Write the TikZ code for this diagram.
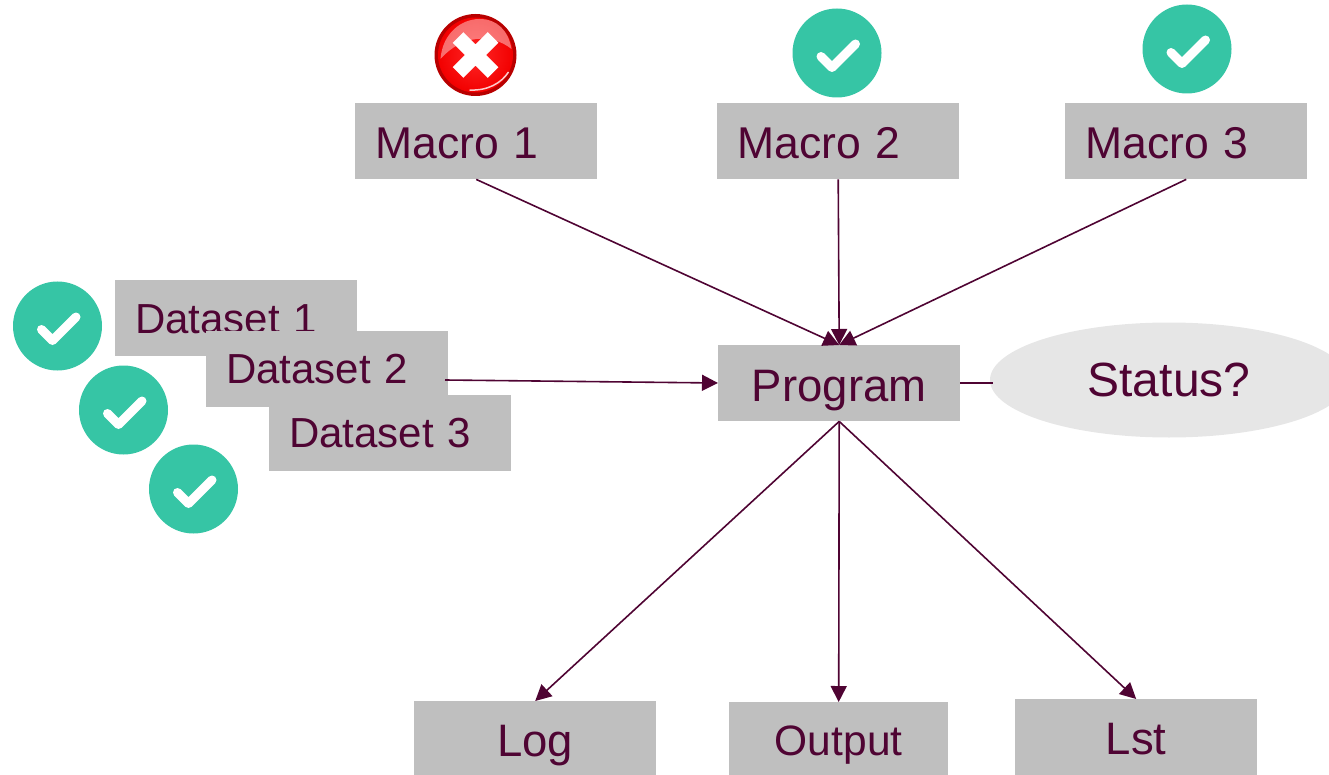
\documentclass[tikz,border=0pt]{standalone}
\usepackage{fontspec}
\setmainfont{Liberation Sans}
\newfontfamily\tightsans[WordSpace=0.6]{Liberation Sans}
\usetikzlibrary{arrows.meta,shapes.geometric}
\definecolor{wine}{HTML}{4F0433}
\definecolor{boxgrey}{HTML}{BFBFBF}
\definecolor{ovalgrey}{HTML}{E6E6E6}
\definecolor{okgreen}{HTML}{36C5A5}
\tikzset{
  x=1pt,y=-1pt,
  boxbase/.style={fill=boxgrey,text=wine,inner ysep=0pt,anchor=north west,font=\fontsize{45.5}{50}\selectfont},
  leftbox/.style={boxbase,inner xsep=20pt,text width=202pt,align=left,text height=#1pt,text depth=(76-#1)*1pt},
  macrobox/.style={leftbox=55,font=\tightsans\fontsize{44.5}{49}\selectfont},
  dsbox/.style={leftbox=53,font=\fontsize{42}{46}\selectfont},
  midbox/.style={boxbase,inner xsep=0pt,minimum width=242pt,align=center},
  link/.style={draw=wine,line width=1.6pt},
  arrowlink/.style={link,-{Triangle[length=16pt,width=16pt]}},
  okbadge/.pic={
    \fill[okgreen] (0,0) circle[radius=44.5];
    \draw[white,line width=9pt,line cap=round,line join=round] (-16,3.5) -- (-5,14.5) -- (18.5,-9);
  },
  failbadge/.pic={
    \fill[red!72!black] (0,0) circle[radius=41];
    \shade[inner color=red!85!white,outer color=red!95!black] (0,0) circle[radius=37.5];
    \fill[white,opacity=.42] (-35,4) .. controls (-33,-22) and (-14,-36) .. (4,-36) .. controls (22,-36) and (33,-24) .. (36,-6) .. controls (16,-22) and (-14,-20) .. (-35,4) -- cycle;
    \draw[white,line width=1.5pt,opacity=.8] (-6,35) .. controls (12,36) and (26,28) .. (33,17);
    \draw[white,line width=15pt] (-17.5,-17.5) -- (17.5,17.5) (-17.5,17.5) -- (17.5,-17.5);
  }
}
\begin{document}
\begin{tikzpicture}
\path[use as bounding box] (0,0) rectangle (1329,775);
\clip (0,0) rectangle (1329,775);

\pic at (475.5,55) {failbadge};
\pic at (837,53) {okbadge};
\pic at (1187,49) {okbadge};
\pic at (57.5,326) {okbadge};
\pic at (123.5,410) {okbadge};
\pic at (193.5,489) {okbadge};

\node[macrobox] (m1) at (355,103) {Macro 1};
\node[macrobox] (m2) at (717,103) {Macro 2};
\node[macrobox] (m3) at (1065,103) {Macro 3};

\node[dsbox] (d1) at (115,280) {Dataset 1};
\node[dsbox,leftbox=52,font=\fontsize{42}{46}\selectfont] (d2) at (206,331) {Dataset 2};
\node[dsbox,leftbox=52,font=\fontsize{42}{46}\selectfont] (d3) at (269,395) {Dataset 3};

\node[midbox,text height=56pt,text depth=20pt] (prog) at (718,345) {Program};

\node[ellipse,fill=ovalgrey,text=wine,inner sep=0pt,minimum width=358pt,minimum height=115pt,font=\fontsize{48}{52}\selectfont,text height=32pt,text depth=0pt] (status) at (1169,380) {Status?};

\node[midbox,text height=55pt,text depth=19pt] (log) at (414,701) {Log};
\node[midbox,minimum width=219pt,text height=53pt,text depth=20pt,font=\fontsize{42.5}{46}\selectfont] (out) at (729,702) {Output};
\node[midbox,text height=55pt,text depth=21pt] (lst) at (1015,699) {Lst};

\coordinate (d2out) at (445,380);
\coordinate (statusin) at (993,383);
\coordinate (progout) at (960,383);
\coordinate (progin) at (718,383);

\draw[arrowlink] (m1.south) -- (prog.north);
\draw[arrowlink] (m2.south) -- (prog.north);
\draw[arrowlink] (m3.south) -- (prog.north);
\draw[arrowlink] (d2out) -- (progin);
\draw[link] (progout) -- (statusin);
\draw[arrowlink] (prog.south) -- (log.north);
\draw[arrowlink] (prog.south) -- (out.north);
\draw[arrowlink] (prog.south) -- (lst.north);
\end{tikzpicture}
\end{document}
